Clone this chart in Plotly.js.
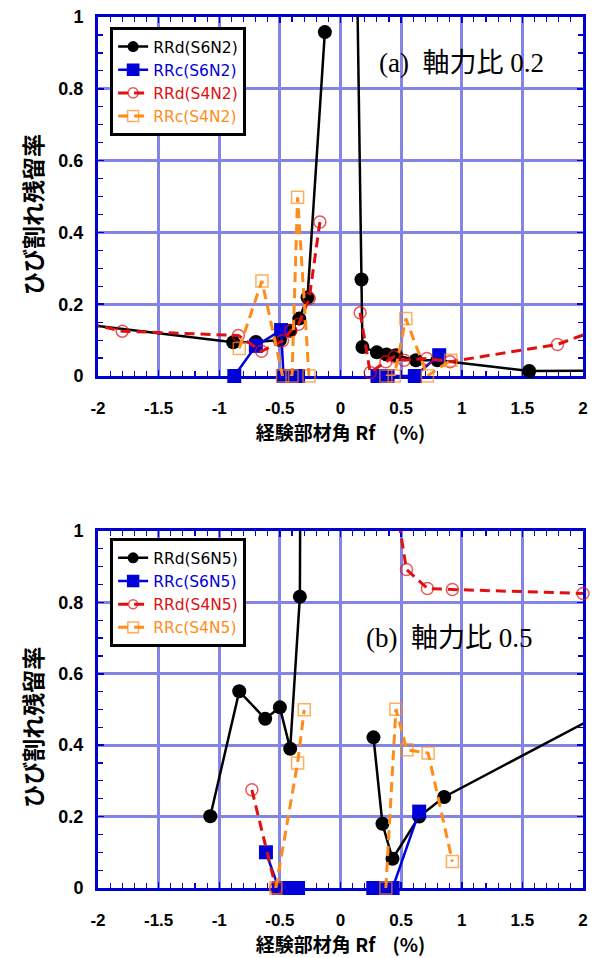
<!DOCTYPE html>
<html>
<head>
<meta charset="utf-8">
<script src="https://cdn.plot.ly/plotly-3.0.1.min.js"></script>
<style>html,body{margin:0;padding:0;background:#fff;}#chart{width:597px;height:958px;}</style>
</head>
<body>
<div id="chart"></div>
<script>
// ---- (a) axial force ratio 0.2 ----
var rrdS6N2_x = [-2.4, -0.885, -0.698, -0.50, -0.415, -0.34, -0.272, -0.129, null, 0.135, 0.173, 0.181, 0.30, 0.379, 0.457, 0.622, 0.80, 1.556, 2.4];
var rrdS6N2_y = [0.156, 0.094, 0.095, 0.10, 0.126, 0.16, 0.219, 0.958, null, 1.15, 0.269, 0.081, 0.066, 0.06, 0.058, 0.044, 0.044, 0.014, 0.015];
var rrcS6N2_x = [-0.876, -0.698, -0.49, -0.47, -0.41, -0.35, null, 0.305, 0.388, 0.613, 0.814];
var rrcS6N2_y = [0, 0.084, 0.128, 0, 0, 0, null, 0, 0, 0, 0.058];
var rrdS4N2_x = [-2.2, -1.80, -0.843, -0.651, -0.478, -0.41, -0.346, -0.258, -0.17, null, 0.162, 0.245, 0.374, 0.443, 0.525, 0.712, 0.904, 1.789, 2.2];
var rrdS4N2_y = [0.155, 0.125, 0.113, 0.069, 0.098, 0.126, 0.144, 0.216, 0.429, null, 0.176, 0.01, 0.04, 0.054, 0.044, 0.049, 0.04, 0.088, 0.139];
var rrcS4N2_x = [-0.835, -0.648, -0.478, -0.40, -0.354, -0.26, null, 0.374, 0.443, 0.539, 0.717, 0.91];
var rrcS4N2_y = [0.077, 0.265, 0, 0, 0.498, 0, null, 0, 0, 0.160, 0, 0.044];

// ---- (b) axial force ratio 0.5 ----
var rrdS6N5_x = [-1.074, -0.835, -0.621, -0.50, -0.415, -0.335, -0.33, null, 0.272, 0.346, 0.429, 0.649, 0.855, 2.4];
var rrdS6N5_y = [0.201, 0.551, 0.474, 0.506, 0.390, 0.816, 1.3, null, 0.422, 0.180, 0.082, 0.200, 0.255, 0.532];
var rrcS6N5_x = [-0.615, -0.51, -0.43, -0.35, null, 0.27, 0.35, 0.43, 0.649];
var rrcS6N5_y = [0.10, 0, 0, 0, null, 0, 0, 0, 0.214];
var rrdS4N5_x = [-0.731, -0.533, null, 0.40, 0.544, 0.717, 0.923, 2.0];
var rrdS4N5_y = [0.275, 0, null, 1.2, 0.892, 0.839, 0.836, 0.825];
var rrcS4N5_x = [-0.533, -0.354, -0.299, null, 0.374, 0.457, 0.547, 0.723, 0.923];
var rrcS4N5_y = [0, 0.350, 0.499, null, 0, 0.501, 0.387, 0.378, 0.074];

var xTickVals = [-2, -1.5, -1, -0.5, 0, 0.5, 1, 1.5, 2];
var xTickText = ['-2', '-1.5', '-1', '-0.5', '0', '0.5', '1', '1.5', '2'];
var xTitle = '経験部材角\u00a0Rf\u00a0\u00a0\u00a0\u00a0(%)';
var yTitle = 'ひび割れ残留率';
var noteA = '(a)\u00a0\u00a0軸力比 0.2';
var noteB = '(b)\u00a0\u00a0軸力比 0.5';

var BLACK = '#000000', BLUE = '#0000d8', RED = '#e01010', ORANGE = '#ff8c1a';

function sizes(xs, ys, s) {
  return xs.map(function (x, i) {
    var y = ys[i];
    if (x === null || y === null) return 0;
    return (x >= -2.001 && x <= 2.001 && y >= -0.001 && y <= 1.001) ? s : 0;
  });
}
function lbl(t, c) { return '<span style="color:' + c + '">' + t + '</span>'; }

function mk(xs, ys, name, kind, xa, ya, leg) {
  var tr = {x: xs, y: ys, type: 'scatter', mode: 'lines+markers', name: name,
    xaxis: xa, yaxis: ya, legend: leg, cliponaxis: false, connectgaps: false};
  if (kind === 'bd') {
    tr.line = {color: BLACK, width: 2.5};
    tr.marker = {symbol: 'circle', color: BLACK, opacity: 1, size: sizes(xs, ys, 14), line: {width: 0}};
  } else if (kind === 'bc') {
    tr.line = {color: BLUE, width: 2.5};
    tr.marker = {symbol: 'square', color: BLUE, opacity: 1, size: sizes(xs, ys, 14), line: {width: 0}};
  } else if (kind === 'rd') {
    tr.line = {color: RED, width: 3, dash: '10px,6px'};
    tr.marker = {symbol: 'circle-open', color: RED, size: sizes(xs, ys, 12), line: {width: 1.5, color: RED}};
  } else {
    tr.line = {color: ORANGE, width: 3, dash: '10px,6px'};
    tr.marker = {symbol: 'square-open', color: ORANGE, size: sizes(xs, ys, 12), line: {width: 1.5, color: ORANGE}};
  }
  return tr;
}

var data = [
  mk(rrdS6N2_x, rrdS6N2_y, lbl('RRd(S6N2)', BLACK), 'bd', 'x', 'y', 'legend'),
  mk(rrcS6N2_x, rrcS6N2_y, lbl('RRc(S6N2)', BLUE), 'bc', 'x', 'y', 'legend'),
  mk(rrdS4N2_x, rrdS4N2_y, lbl('RRd(S4N2)', RED), 'rd', 'x', 'y', 'legend'),
  mk(rrcS4N2_x, rrcS4N2_y, lbl('RRc(S4N2)', ORANGE), 'rc', 'x', 'y', 'legend'),
  mk(rrdS6N5_x, rrdS6N5_y, lbl('RRd(S6N5)', BLACK), 'bd', 'x2', 'y2', 'legend2'),
  mk(rrcS6N5_x, rrcS6N5_y, lbl('RRc(S6N5)', BLUE), 'bc', 'x2', 'y2', 'legend2'),
  mk(rrdS4N5_x, rrdS4N5_y, lbl('RRd(S4N5)', RED), 'rd', 'x2', 'y2', 'legend2'),
  mk(rrcS4N5_x, rrcS4N5_y, lbl('RRc(S4N5)', ORANGE), 'rc', 'x2', 'y2', 'legend2')
];

var AX = '#0000d0', GRID = '#8484e6';
var tickFont = {family: 'Liberation Sans, Arial, sans-serif', size: 17, color: '#000', weight: 'bold'};
var titleFont = {family: 'Noto Sans CJK JP, sans-serif', size: 19, color: '#000', weight: 'bold'};
var yTitleFont = {family: 'Noto Sans CJK JP, sans-serif', size: 23, color: '#000', weight: 'bold'};

function xax(anchor) {
  return {anchor: anchor, range: [-2, 2], tickmode: 'array', tickvals: xTickVals, ticktext: xTickText,
    showline: true, linecolor: AX, linewidth: 3, mirror: 'allticks', ticks: 'inside', ticklen: 6, tickwidth: 1.5, tickcolor: AX,
    showgrid: true, gridcolor: GRID, gridwidth: 3, zeroline: false, layer: 'below traces',
    minor: {dtick: 0.1, ticks: 'inside', ticklen: 5, tickcolor: AX, tickwidth: 1.2, showgrid: false},
    tickfont: tickFont, ticklabelstandoff: 15,
    title: {text: xTitle, font: titleFont, standoff: 7}, automargin: false, fixedrange: true};
}
function yax(anchor, dom) {
  return {anchor: anchor, domain: dom, range: [0, 1], dtick: 0.2, tick0: 0,
    showline: true, linecolor: AX, linewidth: 3, mirror: 'allticks', ticks: 'inside', ticklen: 6, tickwidth: 1.5, tickcolor: AX,
    showgrid: true, gridcolor: GRID, gridwidth: 3, zeroline: false, layer: 'below traces',
    minor: {dtick: 0.05, ticks: 'inside', ticklen: 5, tickcolor: AX, tickwidth: 1.2, showgrid: false},
    tickfont: {family: 'Liberation Sans, Arial, sans-serif', size: 18, color: '#000', weight: 'bold'}, ticklabelstandoff: 8,
    automargin: false, fixedrange: true};
}

var legStyle = {font: {family: 'DejaVu Sans, sans-serif', size: 15.5, color: '#000'},
  bordercolor: '#000', borderwidth: 3, bgcolor: '#fff', xanchor: 'left', yanchor: 'top',
  tracegroupgap: 0, itemwidth: 30};

var layout = {
  width: 597, height: 958,
  margin: {l: 98, r: 14, t: 17, b: 70},
  paper_bgcolor: '#fff', plot_bgcolor: '#fff',
  showlegend: true,
  xaxis: xax('y'),
  yaxis: yax('x', [0.5878, 1]),
  xaxis2: xax('y2'),
  yaxis2: yax('x2', [0, 0.4099]),
  legend: Object.assign({x: 0.025, y: 0.9885}, legStyle),
  legend2: Object.assign({x: 0.025, y: 0.4015}, legStyle),
  annotations: [
    {text: noteA, xref: 'x', yref: 'y', x: 0.30, y: 0.872, xanchor: 'left', yanchor: 'middle', showarrow: false,
     font: {family: 'Liberation Serif, Noto Sans CJK JP, serif', size: 27, color: '#000'}},
    {text: noteB, xref: 'x2', yref: 'y2', x: 0.195, y: 0.699, xanchor: 'left', yanchor: 'middle', showarrow: false,
     font: {family: 'Liberation Serif, Noto Sans CJK JP, serif', size: 27, color: '#000'}},
    {text: yTitle, xref: 'paper', yref: 'y', x: -0.135, y: 0.45, xanchor: 'center', yanchor: 'middle', textangle: -90,
     showarrow: false, font: yTitleFont},
    {text: yTitle, xref: 'paper', yref: 'y2', x: -0.135, y: 0.45, xanchor: 'center', yanchor: 'middle', textangle: -90,
     showarrow: false, font: yTitleFont}
  ]
};

Plotly.newPlot('chart', data, layout, {staticPlot: true, displayModeBar: false});
</script>
</body>
</html>
